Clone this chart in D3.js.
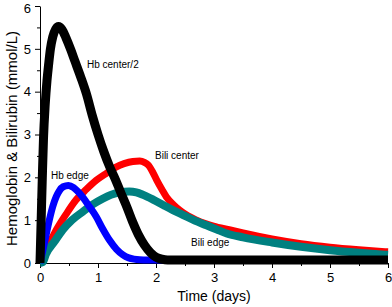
<!DOCTYPE html>
<html>
<head>
<meta charset="utf-8">
<script src="https://cdn.jsdelivr.net/npm/d3@7"></script>
<style>
  body { margin: 0; background: #fff; }
  text { font-family: Arial, "Liberation Sans", sans-serif; }
</style>
</head>
<body>
<div id="chart-area"></div>
<script>
// time points (days) and values (mmol/L)
var hbCenterT = [0, 0.02, 0.04, 0.06, 0.09, 0.12, 0.15, 0.18, 0.22, 0.27, 0.32, 0.38, 0.45, 0.53, 0.6, 0.7, 0.8, 0.9, 1.0, 1.1, 1.2, 1.3, 1.4, 1.5, 1.6, 1.7, 1.8, 1.9, 2.0, 2.1, 2.2, 2.3, 3, 4, 5, 6];
var hbCenterV = [0, 1.0, 2.0, 2.9, 3.7, 4.25, 4.65, 5.0, 5.28, 5.46, 5.52, 5.45, 5.25, 4.98, 4.72, 4.35, 3.95, 3.45, 3.0, 2.6, 2.25, 1.95, 1.62, 1.3, 0.95, 0.65, 0.42, 0.25, 0.14, 0.09, 0.07, 0.07, 0.07, 0.07, 0.07, 0.07];

var hbEdgeT = [0, 0.05, 0.1, 0.16, 0.22, 0.28, 0.33, 0.4, 0.49, 0.58, 0.66, 0.74, 0.85, 0.97, 1.08, 1.2, 1.32, 1.43, 1.53, 1.62, 1.72, 1.85, 2, 3, 4, 5, 6];
var hbEdgeV = [0, 0.3, 0.62, 1.0, 1.32, 1.55, 1.68, 1.78, 1.81, 1.76, 1.66, 1.53, 1.32, 1.08, 0.8, 0.53, 0.32, 0.19, 0.12, 0.09, 0.075, 0.07, 0.07, 0.07, 0.07, 0.07, 0.07];

var biliCenterT = [0, 0.1, 0.28, 0.45, 0.62, 0.8, 0.97, 1.15, 1.31, 1.45, 1.6, 1.72, 1.8, 1.87, 1.94, 2.01, 2.1, 2.18, 2.3, 2.41, 2.55, 2.7, 2.85, 2.99, 3.28, 3.5, 4, 4.5, 5, 5.5, 6];
var biliCenterV = [0, 0.28, 0.77, 1.14, 1.47, 1.72, 1.93, 2.1, 2.24, 2.32, 2.37, 2.38, 2.35, 2.28, 2.13, 1.94, 1.72, 1.54, 1.36, 1.23, 1.1, 1.0, 0.92, 0.86, 0.77, 0.7, 0.56, 0.45, 0.37, 0.31, 0.26];

var biliEdgeT = [0, 0.05, 0.1, 0.25, 0.39, 0.55, 0.74, 0.9, 1.08, 1.22, 1.37, 1.54, 1.66, 1.78, 1.95, 2.13, 2.3, 2.47, 2.67, 2.87, 3.05, 3.22, 3.5, 4, 4.5, 5, 5.5, 6];
var biliEdgeV = [0, 0.02, 0.2, 0.5, 0.77, 1.0, 1.2, 1.36, 1.5, 1.59, 1.65, 1.67, 1.65, 1.59, 1.48, 1.35, 1.23, 1.12, 0.99, 0.88, 0.78, 0.69, 0.6, 0.48, 0.38, 0.3, 0.24, 0.19];

var xTicks = [0, 1, 2, 3, 4, 5, 6];
var yTicks = [0, 1, 2, 3, 4, 5, 6];
var xMinor = [0.5, 1.5, 2.5, 3.5, 4.5, 5.5];
var yMinor = [0.5, 1.5, 2.5, 3.5, 4.5, 5.5];

var series = [
  { name: "Bili center", t: biliCenterT, v: biliCenterV, color: "#ff0000", w: 7, lx: 155, ly: 159 },
  { name: "Bili edge", t: biliEdgeT, v: biliEdgeV, color: "#008080", w: 8, lx: 191, ly: 246 },
  { name: "Hb edge", t: hbEdgeT, v: hbEdgeV, color: "#0000ff", w: 7, lx: 51, ly: 179 },
  { name: "Hb center/2", t: hbCenterT, v: hbCenterV, color: "#000000", w: 9, lx: 87, ly: 68 }
];

const W = 392, H = 307;
const X0 = 40, X1 = 388, Y0 = 263, Y1 = 6;

const svg = d3.select("#chart-area").append("svg")
  .attr("width", W)
  .attr("height", H);

var xScale = d3.scaleLinear().domain([0, 6]).range([X0, X1]);
var yScale = d3.scaleLinear().domain([0, 6]).range([Y0, Y1]);

// minor ticks first, then main axes on top
svg.append("g")
  .attr("transform", "translate(0," + Y0 + ")")
  .call(d3.axisBottom(xScale).tickValues(xMinor).tickSize(3).tickFormat(""))
  .call(g => g.select(".domain").remove());

svg.append("g")
  .attr("transform", "translate(" + X0 + ",0)")
  .call(d3.axisLeft(yScale).tickValues(yMinor).tickSize(3).tickFormat(""))
  .call(g => g.select(".domain").remove());

var xAxis = svg.append("g")
  .attr("transform", "translate(0," + Y0 + ")")
  .call(d3.axisBottom(xScale).tickValues(xTicks).tickSize(5).tickSizeOuter(0).tickPadding(5).tickFormat(d3.format("d")));
xAxis.selectAll("text").attr("font-size", 13).attr("fill", "#000");

var yAxis = svg.append("g")
  .attr("transform", "translate(" + X0 + ",0)")
  .call(d3.axisLeft(yScale).tickValues(yTicks).tickSize(5).tickSizeOuter(0).tickPadding(4).tickFormat(d3.format("d")));
yAxis.selectAll("text").attr("font-size", 13).attr("fill", "#000");
yAxis.selectAll(".tick text").filter(d => d === 6).attr("dy", "0.5em");

svg.selectAll(".domain, .tick line").attr("stroke", "#000");

var line = d3.line()
  .x(d => xScale(d[0]))
  .y(d => yScale(d[1]))
  .curve(d3.curveMonotoneX);

series.forEach(s => {
  var pts = s.t.map((t, i) => [t, s.v[i]]);
  svg.append("path")
    .attr("fill", "none")
    .attr("stroke", s.color)
    .attr("stroke-width", s.w)
    .attr("stroke-linejoin", "round")
    .attr("d", line(pts));
});

series.forEach(s => {
  svg.append("text")
    .attr("x", s.lx)
    .attr("y", s.ly)
    .attr("font-size", 10)
    .attr("fill", "#000")
    .text(s.name);
});

svg.append("text")
  .attr("x", (X0 + X1) / 2)
  .attr("y", 301)
  .attr("text-anchor", "middle")
  .attr("font-size", 14)
  .text("Time (days)");

svg.append("text")
  .attr("transform", "translate(17," + ((Y0 + Y1) / 2 + 4) + ") rotate(-90)")
  .attr("text-anchor", "middle")
  .attr("font-size", 15)
  .text("Hemoglobin & Bilirubin (mmol/L)");
</script>
</body>
</html>
